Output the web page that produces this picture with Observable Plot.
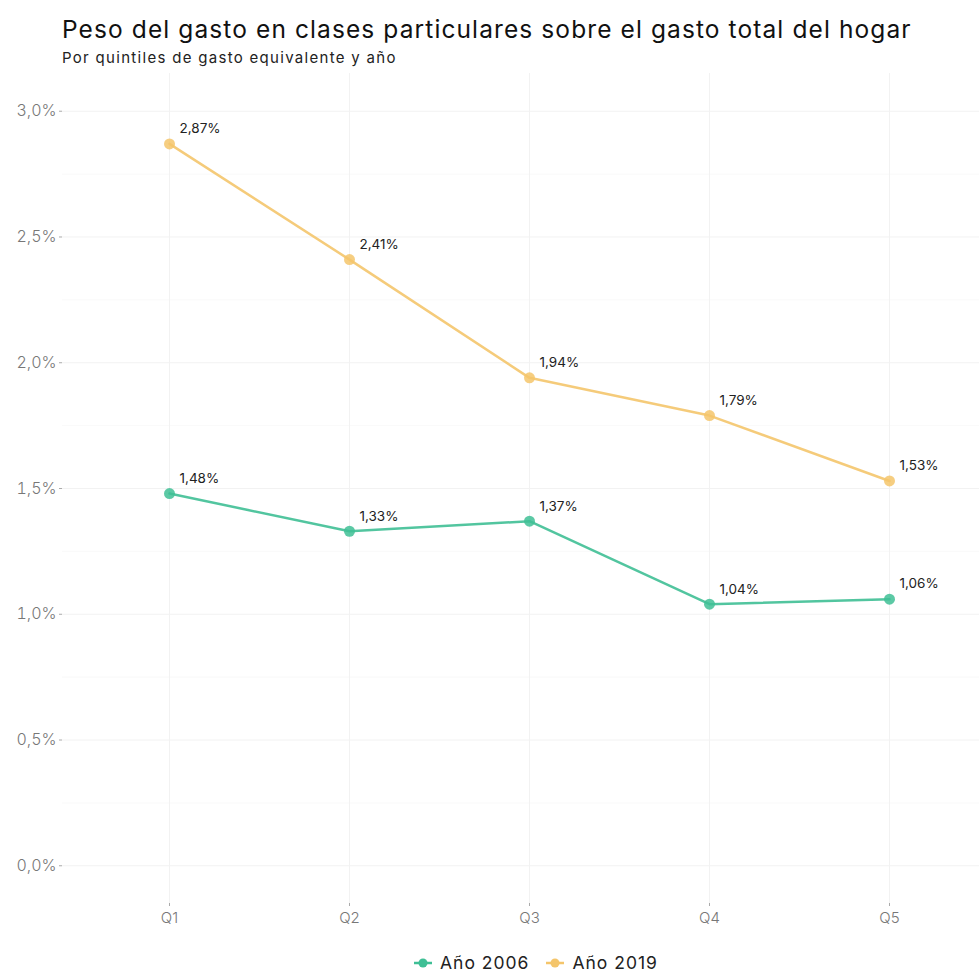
<!DOCTYPE html>
<html><head><meta charset="utf-8">
<script src="https://cdn.jsdelivr.net/npm/d3@7"></script>
<script src="https://cdn.jsdelivr.net/npm/@observablehq/plot@0.6"></script>
<style>
body{margin:0;background:#fff;font-family:Inter,"Noto Sans",sans-serif;width:979px;height:972px;position:relative;overflow:hidden}
#title{position:absolute;left:62px;top:14px;font-size:24.5px;letter-spacing:1.1px;line-height:30px;color:#111;white-space:nowrap}
#subtitle{position:absolute;left:62px;top:49px;font-size:15px;letter-spacing:1.3px;line-height:18px;color:#222;white-space:nowrap}
#chart{position:absolute;left:0;top:70px}
#legend{position:absolute;top:952px;left:413px;font-size:17.5px;letter-spacing:1px;line-height:22px;color:#222;display:flex;align-items:center;white-space:nowrap}
#legend .it{display:flex;align-items:center;margin-right:16px}
#legend svg{margin-right:7px}
</style></head><body>
<div id="title">Peso del gasto en clases particulares sobre el gasto total del hogar</div>
<div id="subtitle">Por quintiles de gasto equivalente y año</div>
<div id="chart"></div>
<div id="legend"></div>
<script>
const quintiles = ["Q1","Q2","Q3","Q4","Q5"];
const series = ["Año 2006","Año 2019"];
const values2006 = [1.48, 1.33, 1.37, 1.04, 1.06];
const values2019 = [2.87, 2.41, 1.94, 1.79, 1.53];
const colors = ["#3fbf95","#f4c56b"];
const yTicks = [0, 0.5, 1.0, 1.5, 2.0, 2.5, 3.0];
const yMinor = [0.25, 0.75, 1.25, 1.75, 2.25, 2.75];

const data = [];
quintiles.forEach((q,i)=>{
  data.push({q, serie: series[0], v: values2006[i]});
  data.push({q, serie: series[1], v: values2019[i]});
});
const loc = d3.formatLocale({decimal:",", thousands:".", grouping:[3], currency:["","€"]});
const f2 = loc.format(".2f"), f1 = loc.format(".1f");

const chart = Plot.plot({
  width: 979,
  height: 868,
  marginTop: 3,
  marginBottom: 35,
  marginLeft: 62,
  marginRight: 0,
  style: {fontFamily: "Inter, 'Noto Sans', sans-serif", background: "#fff"},
  x: {type: "point", domain: quintiles, range: [169, 889], padding: 0, label: null},
  y: {domain: [-0.15, 3.15], label: null},
  color: {domain: series, range: colors},
  marks: [
    Plot.ruleY(yMinor, {stroke: "#f8f8f8", strokeWidth: 0.8}),
    Plot.ruleY(yTicks, {stroke: "#f2f2f2", strokeWidth: 1}),
    Plot.ruleX(quintiles, {x: d => d, stroke: "#f2f2f2", strokeWidth: 1}),
    Plot.axisY(yTicks, {label: null, tickFormat: d => f1(d) + "%", tickSize: 3, tickPadding: 3, fontSize: 16, letterSpacing: 0.5, fill: "#777", stroke: "#aaa", fontWeight: 300}),
    Plot.axisX(quintiles, {label: null, tickSize: 3, tickPadding: 6, fontSize: 15, fill: "#777", stroke: "#aaa", fontWeight: 300}),
    Plot.line(data, {x: "q", y: "v", z: "serie", stroke: "serie", strokeWidth: 2.5, strokeOpacity: 0.9}),
    Plot.dot(data, {x: "q", y: "v", fill: "serie", r: 5.5, fillOpacity: 0.85}),
    Plot.text(data, {x: "q", y: "v", text: d => f2(d.v) + "%", textAnchor: "start", dx: 10, dy: -15, fontSize: 13.5, fill: "#222"})
  ]
});
document.getElementById("chart").appendChild(chart);

const leg = document.getElementById("legend");
series.forEach((s,i)=>{
  const it = document.createElement("div"); it.className="it";
  it.innerHTML = `<svg width="20" height="12"><line x1="1" x2="19" y1="6" y2="6" stroke="${colors[i]}" stroke-width="2.5"/><circle cx="10" cy="6" r="4.5" fill="${colors[i]}"/></svg><span>${s}</span>`;
  leg.appendChild(it);
});
</script>
</body></html>
